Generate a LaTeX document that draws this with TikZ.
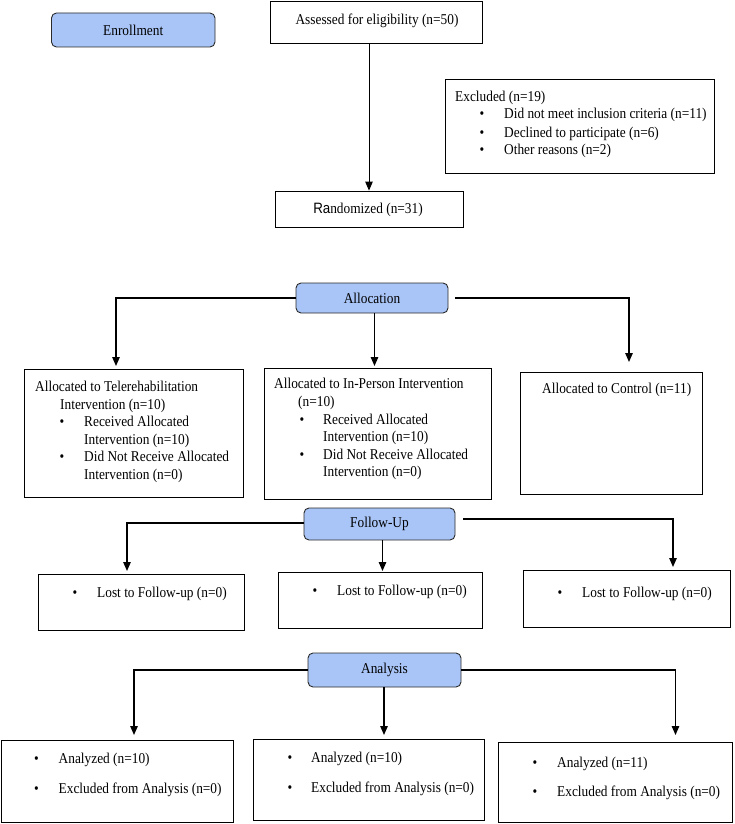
\documentclass[tikz,border=0pt]{standalone}
\usepackage{fontspec}
\setmainfont{Liberation Serif}[FakeStretch=0.89]
\setsansfont{Liberation Sans}[FakeStretch=0.89]
\usetikzlibrary{arrows.meta}
\definecolor{phasefill}{HTML}{A9C5F7}
\definecolor{phaseline}{HTML}{2A2A2A}
\newcommand\myfs{\fontsize{15}{17.4}\selectfont}
\begin{document}
\begin{tikzpicture}[x=1pt,y=-1pt,
  box/.style={draw=black, line width=0.8pt, inner sep=0pt},
  phase/.style={draw=phaseline, fill=phasefill, rounded corners=5pt, line width=0.9pt, inner sep=0pt, font=\myfs},
  txt/.style={inner sep=0pt, anchor=base west, font=\myfs},
  ctxt/.style={inner sep=0pt, font=\myfs},
  bul/.style={inner sep=0pt, anchor=base, font=\myfs},
  arr/.style={line width=1.3pt, -{Triangle[length=9pt,width=7.5pt]}},
]
\useasboundingbox (0,0) rectangle (734,824);

% phase boxes
\node[phase, minimum width=163.5pt, minimum height=34pt] (enr) at (133.25,30) {Enrollment};
\node[phase, minimum width=152pt, minimum height=30pt] (alloc) at (372,298) {Allocation};
\node[phase, minimum width=151pt, minimum height=32pt] (fu) at (379.5,524) {Follow-Up};
\node[phase, minimum width=153pt, minimum height=34pt] (an) at (384.5,670) {Analysis};

% plain boxes
\node[box, minimum width=211.5pt, minimum height=42pt] (ass) at (376.25,22) {};
\node[box, minimum width=269pt, minimum height=94pt] (exc) at (579.5,126) {};
\node[box, minimum width=188pt, minimum height=36pt] (ran) at (369,209) {};
\node[box, minimum width=219pt, minimum height=128pt] (a1) at (133.5,433) {};
\node[box, minimum width=227pt, minimum height=131pt] (a2) at (377.5,433.5) {};
\node[box, minimum width=182pt, minimum height=122pt] (a3) at (611,433) {};
\node[box, minimum width=206pt, minimum height=56pt] (b1) at (141,602) {};
\node[box, minimum width=204pt, minimum height=56pt] (b2) at (380,600) {};
\node[box, minimum width=207pt, minimum height=57pt] (b3) at (626.5,598.5) {};
\node[box, minimum width=232pt, minimum height=82pt] (c1) at (117,781) {};
\node[box, minimum width=231pt, minimum height=81pt] (c2) at (368.5,779.5) {};
\node[box, minimum width=234pt, minimum height=80pt] (c3) at (615,782) {};

% texts
\node[ctxt] (asst) at (377,21) {Assessed for eligibility (n=50)};
\node[ctxt] (rant) at (368,210) {{\sffamily Ra}ndomized (n=31)};

\node[txt] (exc0) at (455,102) {Excluded (n=19)};
\node[bul] (excb1) at (482,119) {\textbullet};
\node[txt] (exc1) at (504,119) {Did not meet inclusion criteria (n=11)};
\node[bul] (excb2) at (482,137) {\textbullet};
\node[txt] (exc2) at (504,137) {Declined to participate (n=6)};
\node[bul] (excb3) at (482,154) {\textbullet};
\node[txt] (exc3) at (504,154) {Other reasons (n=2)};

\node[txt] (a1t1) at (35,391.5) {Allocated to Telerehabilitation};
\node[txt] (a1t2) at (60,409) {Intervention (n=10)};
\node[bul] (a1b1) at (62,426.5) {\textbullet};
\node[txt] (a1t3) at (84,426.5) {Received Allocated};
\node[txt] (a1t4) at (84,444) {Intervention (n=10)};
\node[bul] (a1b2) at (62,461.5) {\textbullet};
\node[txt] (a1t5) at (84,461.5) {Did Not Receive Allocated};
\node[txt] (a1t6) at (84,479) {Intervention (n=0)};

\node[txt] (a2t1) at (274,388.5) {Allocated to In-Person Intervention};
\node[txt] (a2t2) at (298,406) {(n=10)};
\node[bul] (a2b1) at (302,424) {\textbullet};
\node[txt] (a2t3) at (323,424) {Received Allocated};
\node[txt] (a2t4) at (323,441) {Intervention (n=10)};
\node[bul] (a2b2) at (302,459) {\textbullet};
\node[txt] (a2t5) at (323,459) {Did Not Receive Allocated};
\node[txt] (a2t6) at (323,476) {Intervention (n=0)};

\node[txt] (a3t1) at (542,393.5) {Allocated to Control (n=11)};

\node[bul] (b1b) at (75,597.5) {\textbullet};
\node[txt] (b1t) at (97,597.5) {Lost to Follow-up (n=0)};
\node[bul] (b2b) at (315,595.5) {\textbullet};
\node[txt] (b2t) at (337,595.5) {Lost to Follow-up (n=0)};
\node[bul] (b3b) at (560,597.5) {\textbullet};
\node[txt] (b3t) at (582,597.5) {Lost to Follow-up (n=0)};

\node[bul] (c1b1) at (36.5,763.5) {\textbullet};
\node[txt] (c1t1) at (58.5,763.5) {Analyzed (n=10)};
\node[bul] (c1b2) at (36.5,793.5) {\textbullet};
\node[txt] (c1t2) at (58.5,793.5) {Excluded from Analysis (n=0)};
\node[bul] (c2b1) at (290,762.5) {\textbullet};
\node[txt] (c2t1) at (311,762.5) {Analyzed (n=10)};
\node[bul] (c2b2) at (290,792.5) {\textbullet};
\node[txt] (c2t2) at (311,792.5) {Excluded from Analysis (n=0)};
\node[bul] (c3b1) at (535,767.5) {\textbullet};
\node[txt] (c3t1) at (557,767.5) {Analyzed (n=11)};
\node[bul] (c3b2) at (535,796.5) {\textbullet};
\node[txt] (c3t2) at (557,796.5) {Excluded from Analysis (n=0)};

% connector ends
\coordinate (a1in) at (116,366);
\coordinate (a2in) at (374.5,366);
\coordinate (a3in) at (629,362);
\coordinate (b1in) at (127,571);
\coordinate (b2in) at (382.5,571);
\coordinate (b3in) at (673,567);
\coordinate (c1in) at (134,735);
\coordinate (c2in) at (384,735);
\coordinate (c3in) at (675.5,735);

% connectors
\draw[arr, line width=0.9pt] (ass.south -| ran.north) -- (ran.north);
\draw[arr] (alloc.west) -| (a1in);
\draw[arr] (alloc.south -| a2in) -- (a2in);
\draw[arr, shorten <=7pt] (alloc.east) -| (a3in);
\draw[arr] ([yshift=1pt]fu.west) -| (b1in);
\draw[arr] (fu.south -| b2in) -- (b2in);
\draw[arr, shorten <=8pt] ([yshift=5pt]fu.east) -| (b3in);
\draw[arr] (an.west) -| (c1in);
\draw[arr] (an.south -| c2in) -- (c2in);
\draw[arr] (an.east) -| (c3in);
\end{tikzpicture}
\end{document}
